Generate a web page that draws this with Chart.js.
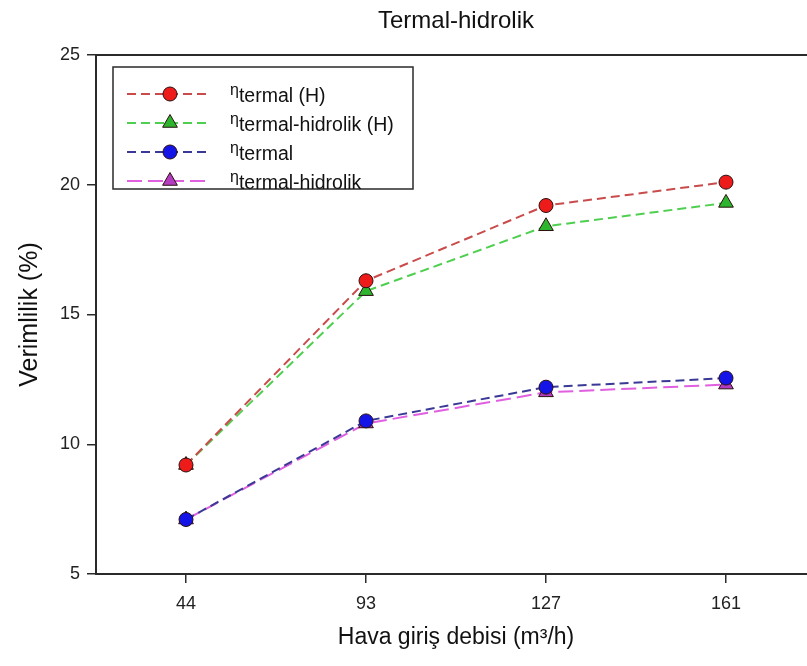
<!DOCTYPE html>
<html>
<head>
<meta charset="utf-8">
<title>Termal-hidrolik</title>
<script src="https://cdn.jsdelivr.net/npm/chart.js@4.4.1/dist/chart.umd.min.js"></script>
<style>
  html, body { margin: 0; padding: 0; background: #fff; overflow: hidden; }
  #wrap { position: relative; width: 912px; height: 666px; }
</style>
</head>
<body>
<div id="wrap"><canvas id="verim" width="912" height="666"></canvas></div>
<script>
// hava giriş debisi (m3/h) ve verimlilik değerleri (%)
const debi = ['44', '93', '127', '161'];
const termalH = [9.2, 16.3, 19.2, 20.1];
const termalHidrolikH = [9.2, 15.9, 18.4, 19.3];
const termal = [7.1, 10.9, 12.2, 12.55];
const termalHidrolik = [7.1, 10.8, 12.0, 12.3];
const yTicks = [5, 10, 15, 20, 25];

const FONT = 'Arial, "Liberation Sans", Helvetica, sans-serif';
const AXIS = '#2a2a2a';

function markerPath(ctx, style, r, x, y) {
  ctx.beginPath();
  if (style === 'triangle') {
    ctx.moveTo(x, y - r);
    ctx.lineTo(x + r * 0.866, y + r * 0.5);
    ctx.lineTo(x - r * 0.866, y + r * 0.5);
    ctx.closePath();
  } else {
    ctx.arc(x, y, r, 0, Math.PI * 2);
  }
}

// üst çerçeve çizgisi + lejant kutusu
const frameAndLegend = {
  id: 'frameAndLegend',
  afterDraw(chart) {
    const { ctx, chartArea } = chart;
    ctx.save();
    ctx.strokeStyle = AXIS;
    ctx.lineWidth = 2;
    ctx.beginPath();
    ctx.moveTo(chartArea.left, chartArea.top);
    ctx.lineTo(chartArea.right, chartArea.top);
    ctx.stroke();

    const bx = 113, by = 67, bw = 300, bh = 122;
    ctx.fillStyle = '#fff';
    ctx.fillRect(bx, by, bw, bh);
    ctx.lineWidth = 1.5;
    ctx.strokeRect(bx, by, bw, bh);

    chart.data.datasets.forEach((ds, i) => {
      const y = by + 27 + i * 29;
      ctx.strokeStyle = ds.borderColor;
      ctx.lineWidth = 2;
      ctx.setLineDash(ds.borderDash);
      ctx.beginPath();
      ctx.moveTo(127, y);
      ctx.lineTo(211, y);
      ctx.stroke();
      ctx.setLineDash([]);

      markerPath(ctx, ds.pointStyle, ds.pointRadius, 170, y);
      ctx.fillStyle = ds.pointBackgroundColor;
      ctx.fill();
      ctx.lineWidth = 1;
      ctx.strokeStyle = ds.pointBorderColor;
      ctx.stroke();

      // η biraz yukarıda, alt simge kısmı normal satırda
      ctx.fillStyle = '#111';
      ctx.textBaseline = 'alphabetic';
      ctx.textAlign = 'left';
      ctx.font = '16px ' + FONT;
      ctx.fillText(ds.label[0], 230, y + 1);
      const w = ctx.measureText(ds.label[0]).width;
      ctx.font = '19.5px ' + FONT;
      ctx.fillText(ds.label.slice(1), 230 + w, y + 8);
    });
    ctx.restore();
  }
};

function series(label, data, line, fill, style, radius, dash) {
  return {
    label,
    data,
    borderColor: line,
    borderWidth: 2,
    borderDash: dash,
    pointStyle: style,
    pointRadius: radius,
    pointHoverRadius: radius,
    pointBackgroundColor: fill,
    pointBorderColor: '#2a1010',
    pointBorderWidth: 1,
    fill: false,
    tension: 0
  };
}

const datasets = [
  series('ηtermal (H)', termalH, '#c94b4b', '#ee1b1b', 'circle', 7, [9, 5]),
  series('ηtermal-hidrolik (H)', termalHidrolikH, '#4fcf4f', '#2db52d', 'triangle', 8.5, [9, 5]),
  series('ηtermal', termal, '#3a3a96', '#1414e6', 'circle', 7, [9, 5]),
  series('ηtermal-hidrolik', termalHidrolik, '#e060e0', '#b53cc0', 'triangle', 8.5, [15, 6])
];

new Chart(document.getElementById('verim'), {
  type: 'line',
  data: { labels: debi, datasets },
  options: {
    responsive: false,
    animation: false,
    layout: { padding: { left: 0, right: 96, top: 0, bottom: 0 } },
    plugins: {
      legend: { display: false },
      tooltip: { enabled: false },
      title: {
        display: true,
        fullSize: false,
        text: 'Termal-hidrolik',
        color: '#111',
        font: { family: FONT, size: 24, weight: 'normal' },
        padding: { top: 7, bottom: 19.2 }
      }
    },
    scales: {
      x: {
        type: 'category',
        offset: true,
        border: { display: true, color: AXIS, width: 2 },
        grid: { display: true, drawOnChartArea: false, drawTicks: true, tickLength: 9, color: AXIS, lineWidth: 1.5 },
        ticks: { color: '#222', padding: 10, font: { family: FONT, size: 18 } },
        title: {
          display: true,
          text: 'Hava giriş debisi (m³/h)',
          color: '#111',
          font: { family: FONT, size: 23 },
          padding: { top: 4, bottom: 15 }
        },
        afterFit(scale) { scale.height = 92; }
      },
      y: {
        type: 'linear',
        min: yTicks[0],
        max: yTicks[yTicks.length - 1],
        afterBuildTicks(scale) { scale.ticks = yTicks.map(v => ({ value: v })); },
        border: { display: true, color: AXIS, width: 2 },
        grid: { display: true, drawOnChartArea: false, drawTicks: true, tickLength: 9, color: AXIS, lineWidth: 1.5 },
        ticks: { color: '#222', padding: 7, font: { family: FONT, size: 18 } },
        title: {
          display: true,
          text: 'Verimlilik (%)',
          color: '#111',
          font: { family: FONT, size: 25 },
          padding: { top: 15, bottom: 0 }
        },
        afterFit(scale) { scale.width = 96; }
      }
    }
  },
  plugins: [frameAndLegend]
});
</script>
</body>
</html>
